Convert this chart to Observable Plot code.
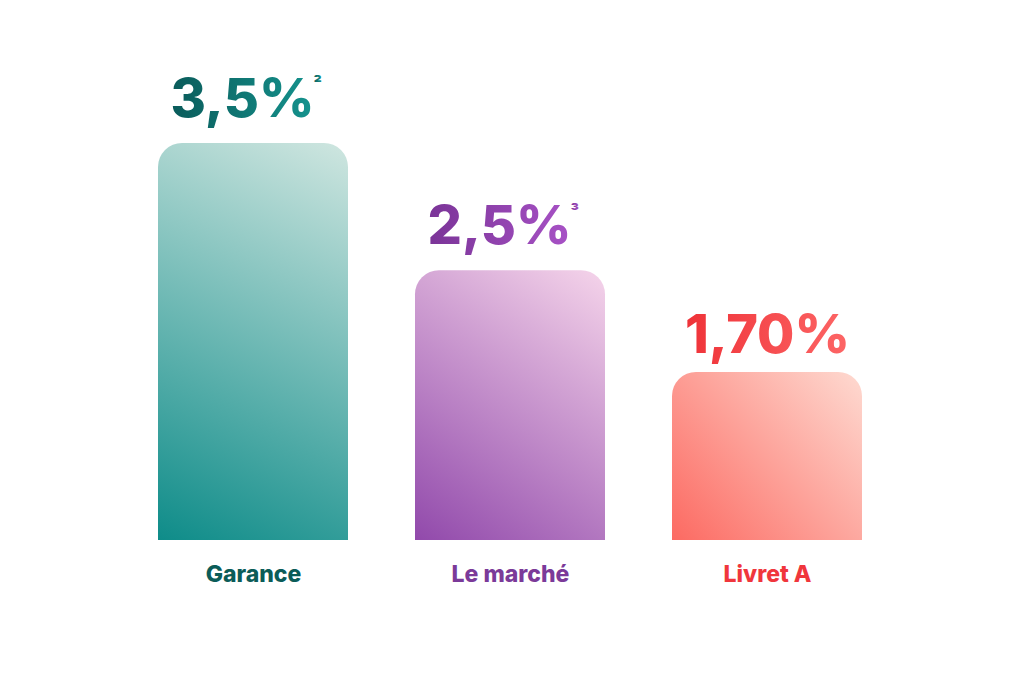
<!DOCTYPE html>
<html><head><meta charset="utf-8">
<script src="https://cdn.jsdelivr.net/npm/d3@7"></script>
<script src="https://cdn.jsdelivr.net/npm/@observablehq/plot@0.6"></script>
<style>
html,body{margin:0;padding:0;background:#fff;}
#chart{width:1024px;height:683px;}
</style>
</head><body><div id="chart"></div>
<script>
const categories = ["Garance", "Le marché", "Livret A"];
const values = [3.5, 2.5, 1.7];
const valueLabels = ["3,5%", "2,5%", "1,70%"];
const notes = ["²", "³", ""];
const yDomain = [0.38, 3.5];

const barStops = [["#0e8c89", "#cfe6e0"], ["#9149ab", "#f5d4ea"], ["#fc6a62", "#fedad1"]];
const textStops = [["#0a5b5a", "#15938e"], ["#7a3497", "#a852c6"], ["#ef3238", "#fd6666"]];
const labelColors = ["#0b5c58", "#7b3a99", "#f0363c"];

const data = categories.map((c, i) => ({
  category: c, value: values[i], label: valueLabels[i], note: notes[i],
  barFill: `url(#bar${i})`, textFill: `url(#txt${i})`, labelColor: labelColors[i]
}));
const withNote = data.filter(d => d.note !== "");
const withoutNote = data.filter(d => d.note === "");

const valueFont = {fontSize: 54, fontWeight: 800, letterSpacing: -5};

const chart = Plot.plot({
  width: 1024, height: 683,
  marginTop: 0, marginBottom: 143, marginLeft: 0, marginRight: 0,
  style: {background: "#fff", fontFamily: "Inter, 'Open Sans', sans-serif"},
  x: {domain: categories, range: [157, 864], paddingInner: 0.259, paddingOuter: 0, axis: null},
  y: {domain: yDomain, range: [540, 143], axis: null},
  color: {type: "identity"},
  marks: [
    Plot.barY(data, {x: "category", y1: yDomain[0] - 0.25, y2: "value", fill: "barFill", rx: 24, clip: true}),
    Plot.text(withoutNote, {x: "category", y: "value", text: "label", fill: "textFill",
      dx: 0, dy: -37, ...valueFont}),
    Plot.text(withNote, {x: "category", y: "value", text: "label", fill: "textFill",
      dx: -11, dy: -44, ...valueFont}),
    Plot.text(withNote, {x: "category", y: "value", text: "note", fill: "textFill",
      dx: 60, dy: -59, fontSize: 18, fontWeight: 800, textAnchor: "start"}),
    Plot.text(data, {x: "category", y: yDomain[0], text: "category", fill: "labelColor",
      dy: 34, fontSize: 23, fontWeight: 800})
  ]
});

const yScale = chart.scale("y");
const bottom = yScale.apply(yDomain[0]);
const defs = d3.select(chart).insert("defs", ":first-child");
const addGrad = (id, stops, attrs) => {
  const g = defs.append("linearGradient").attr("id", id);
  Object.entries(attrs).forEach(([k, v]) => g.attr(k, v));
  g.append("stop").attr("offset", "0%").attr("stop-color", stops[0]);
  g.append("stop").attr("offset", "100%").attr("stop-color", stops[1]);
};
d3.select(chart).selectAll("rect").filter(function() { return this.getAttribute("fill") && this.getAttribute("fill").startsWith("url(#bar"); })
  .each(function() {
    const id = this.getAttribute("fill").slice(5, -1);
    const i = +id.slice(3);
    const x = +this.getAttribute("x"), y = +this.getAttribute("y"), w = +this.getAttribute("width");
    addGrad(id, barStops[i], {gradientUnits: "userSpaceOnUse", x1: x, y1: bottom, x2: x + w, y2: y});
  });
textStops.forEach((s, i) => addGrad(`txt${i}`, s, {x1: 0, y1: 0, x2: 1, y2: 0}));

document.getElementById("chart").append(chart);
</script>
</body></html>
